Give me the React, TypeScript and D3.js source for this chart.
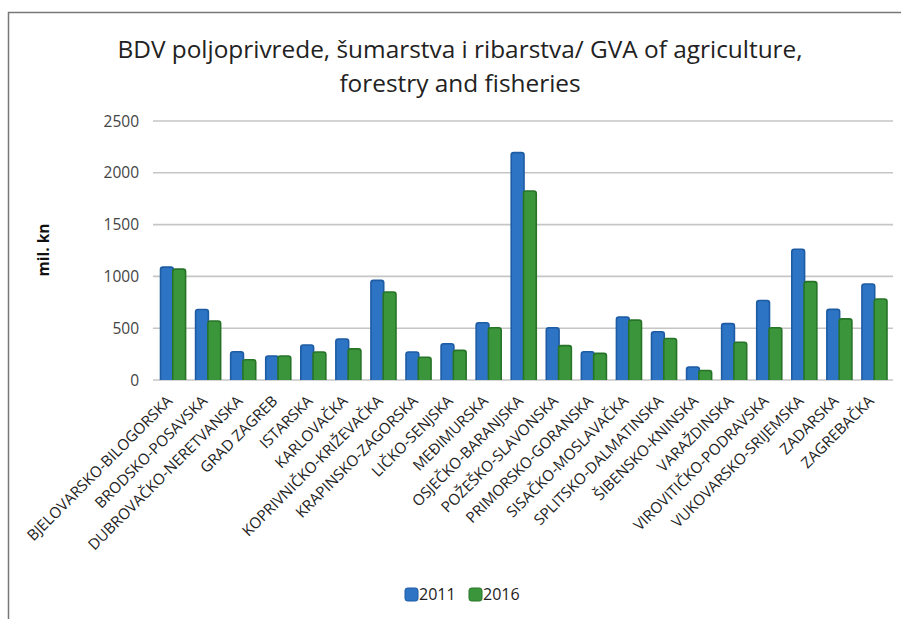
import React from 'react';
import * as d3 from 'd3';

const counties = [
  'BJELOVARSKO-BILOGORSKA', 'BRODSKO-POSAVSKA', 'DUBROVAČKO-NERETVANSKA', 'GRAD ZAGREB',
  'ISTARSKA', 'KARLOVAČKA', 'KOPRIVNIČKO-KRIŽEVAČKA', 'KRAPINSKO-ZAGORSKA', 'LIČKO-SENJSKA',
  'MEĐIMURSKA', 'OSJEČKO-BARANJSKA', 'POŽEŠKO-SLAVONSKA', 'PRIMORSKO-GORANSKA',
  'SISAČKO-MOSLAVAČKA', 'SPLITSKO-DALMATINSKA', 'ŠIBENSKO-KNINSKA', 'VARAŽDINSKA',
  'VIROVITIČKO-PODRAVSKA', 'VUKOVARSKO-SRIJEMSKA', 'ZADARSKA', 'ZAGREBAČKA',
];
const values2011 = [1090, 680, 272, 232, 338, 396, 962, 270, 350, 552, 2195, 505, 272, 608, 466, 125, 544, 768, 1262, 682, 926];
const values2016 = [1070, 570, 195, 232, 270, 300, 850, 220, 286, 505, 1824, 332, 257, 578, 400, 92, 364, 505, 950, 590, 782];
const yTicks = [0, 500, 1000, 1500, 2000, 2500];
const seriesNames = ['2011', '2016'];

const W = 901;
const H = 619;
const left = 153;
const right = 893;
const top = 121;
const bottom = 380;
const font = '"Open Sans", sans-serif';
const fills = ['#2e74c4', '#3b963b'];
const strokes = ['#1d5ba3', '#277428'];

export default function App() {
  const x = d3.scaleBand<string>().domain(counties).range([left, right]).paddingInner(0.3).paddingOuter(0.2);
  const x1 = d3.scaleBand<string>().domain(seriesNames).range([0, x.bandwidth()]);
  const y = d3.scaleLinear().domain([0, 2500]).range([bottom, top]);
  const series = [values2011, values2016];

  return (
    <svg width={W} height={H} style={{ position: 'absolute', left: 0, top: 0, background: '#fff' }}>
      {/* frame */}
      <path d={`M8.5,${H + 2} V12.5 H${W + 2}`} fill="none" stroke="#777" strokeWidth={1.5} />

      <text x={460} y={58} textAnchor="middle" fontFamily={font} fontSize={24.4} fill="#222">
        BDV poljoprivrede, šumarstva i ribarstva/ GVA of agriculture,
      </text>
      <text x={460} y={92} textAnchor="middle" fontFamily={font} fontSize={24.4} fill="#222">
        forestry and fisheries
      </text>

      {/* grid + y ticks */}
      {yTicks.map(t => (
        <g key={t}>
          <line x1={left} x2={right} y1={y(t)} y2={y(t)} stroke="#c6c6c6" strokeWidth={1.6} />
          <text x={139} y={y(t)} dy="0.36em" textAnchor="end" fontFamily={font} fontSize={15.5} fill="#444">
            {t}
          </text>
        </g>
      ))}

      <text transform={`translate(49,250) rotate(-90)`} textAnchor="middle" fontFamily={font}
        fontSize={15.5} fontWeight="bold" fill="#111">
        mil. kn
      </text>

      {/* bars */}
      {series.map((vals, si) => (
        <g key={si}>
          {counties.map((c, i) => {
            const bx = (x(c) as number) + (x1(seriesNames[si]) as number) + 0.5;
            const bw = x1.bandwidth() + 0.5;
            const by = y(vals[i]);
            const r = 2.5;
            return (
              <path key={c}
                d={`M${bx},${y(0)} V${by + r} Q${bx},${by} ${bx + r},${by} H${bx + bw - r} Q${bx + bw},${by} ${bx + bw},${by + r} V${y(0)}`}
                fill={fills[si]} stroke={strokes[si]} strokeWidth={1.6} />
            );
          })}
        </g>
      ))}

      {/* x labels */}
      {counties.map(c => {
        const cx = (x(c) as number) + x.bandwidth() / 2;
        return (
          <text key={c} transform={`translate(${cx + 1},${402}) rotate(-45)`} textAnchor="end"
            fontFamily={font} fontSize={15.2} fill="#222">
            {c}
          </text>
        );
      })}

      {/* legend */}
      {seriesNames.map((s, i) => {
        const lx = 405 + i * 64;
        return (
          <g key={s}>
            <rect x={lx} y={588} width={13} height={13} rx={2.5} fill={fills[i]} stroke={strokes[i]} strokeWidth={1} />
            <text x={lx + 14} y={600} fontFamily={font} fontSize={16} fill="#222">{s}</text>
          </g>
        );
      })}
    </svg>
  );
}
